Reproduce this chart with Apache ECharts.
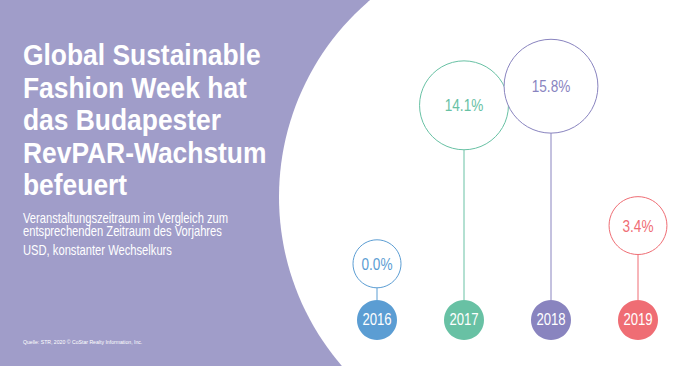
<!DOCTYPE html>
<html>
<head>
<meta charset="utf-8">
<script src="https://cdn.jsdelivr.net/npm/echarts@6/dist/echarts.min.js"></script>
<style>
  html, body { margin: 0; padding: 0; background: #a09dc9; }
  #chart { width: 700px; height: 366px; }
</style>
</head>
<body>
<div id="chart"></div>
<script>
// ---- data ----
const years = ['2016', '2017', '2018', '2019'];
const revparChange = [0.0, 14.1, 15.8, 3.4];
const titleLines = ['Global Sustainable', 'Fashion Week hat', 'das Budapester', 'RevPAR-Wachstum', 'befeuert'];
const subtitleLines = ['Veranstaltungszeitraum im Vergleich zum', 'entsprechenden Zeitraum des Vorjahres'];
const unitLine = 'USD, konstanter Wechselkurs';
const sourceLine = 'Quelle: STR, 2020 \u00a9 CoStar Realty Information, Inc.';

// ---- styles ----
const palette = ['#5b9dd3', '#68c1a4', '#8984bf', '#ef6d74'];
const bg = '#a09dc9';
const sans = '"Liberation Sans", Arial, sans-serif';

const chart = echarts.init(document.getElementById('chart'), null, { renderer: 'svg' });

const option = {
  backgroundColor: bg,
  animation: false,
  graphic: [
    {
      type: 'circle', z: -10, silent: true,
      shape: { cx: 537.5, cy: 197, r: 258.5 },
      style: { fill: '#ffffff' }
    },
    {
      type: 'text', x: 23, y: 38.5, scaleX: 0.88, silent: true,
      style: {
        text: titleLines.join('\n'), x: 0, y: 0,
        font: 'bold 30px ' + sans, lineHeight: 32.4,
        fill: '#ffffff', align: 'left', verticalAlign: 'top'
      }
    },
    {
      type: 'text', x: 23, y: 211.5, scaleX: 0.8, silent: true,
      style: {
        text: subtitleLines.join('\n'), x: 0, y: 0,
        font: '14px ' + sans, lineHeight: 13.6,
        fill: '#ffffff', align: 'left', verticalAlign: 'top'
      }
    },
    {
      type: 'text', x: 23, y: 243, scaleX: 0.8, silent: true,
      style: {
        text: unitLine, x: 0, y: 0,
        font: '14px ' + sans, lineHeight: 15,
        fill: '#ffffff', align: 'left', verticalAlign: 'top'
      }
    },
    {
      type: 'text', x: 23, y: 338, scaleX: 0.86, silent: true,
      style: {
        text: sourceLine, x: 0, y: 0,
        font: '6px ' + sans, lineHeight: 8,
        fill: '#ffffff', align: 'left', verticalAlign: 'top'
      }
    }
  ],
  grid: { left: 333.5, right: 18.5, top: 39, bottom: 46 },
  xAxis: { type: 'category', data: years, show: false, boundaryGap: true },
  yAxis: { type: 'value', min: -5, max: 20, show: false },
  series: [
    {
      type: 'custom',
      data: revparChange.map((v, i) => [years[i], v]),
      renderItem: function (params, api) {
        const i = params.dataIndex;
        const v = api.value(1);
        const pt = api.coord([api.value(0), v]);
        const x = pt[0], cy = pt[1];
        const cs = params.coordSys;
        const baseY = cs.y + cs.height;
        const r = 24 + 1.45 * v;
        const baseR = 20;
        const color = palette[i];
        return {
          type: 'group',
          children: [
            { type: 'line', shape: { x1: x, y1: cy + r, x2: x, y2: baseY - baseR }, style: { stroke: color, lineWidth: 1 } },
            { type: 'circle', shape: { cx: x, cy: cy, r: r }, style: { fill: '#ffffff', stroke: color, lineWidth: 1 } },
            { type: 'text', x: x, y: cy, scaleX: 0.8,
              style: { text: v.toFixed(1) + '%', x: 0, y: 0, align: 'center', verticalAlign: 'middle', fill: color, font: '17px ' + sans } },
            { type: 'circle', shape: { cx: x, cy: baseY, r: baseR }, style: { fill: color } },
            { type: 'text', x: x, y: baseY, scaleX: 0.82,
              style: { text: years[i], x: 0, y: 0, align: 'center', verticalAlign: 'middle', fill: '#ffffff', font: '16px ' + sans } }
          ]
        };
      }
    }
  ]
};
chart.setOption(option);
</script>
</body>
</html>
